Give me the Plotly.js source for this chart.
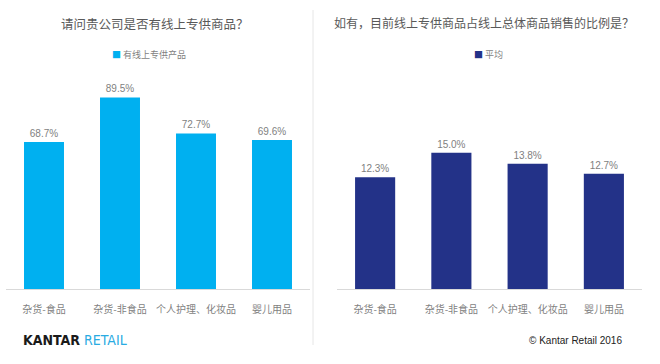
<!DOCTYPE html>
<html><head><meta charset="utf-8">
<script src="https://cdn.plot.ly/plotly-3.0.1.min.js"></script>
<style>html,body{margin:0;padding:0;background:#fff}#chart{width:660px;height:364px}</style>
</head><body><div id="chart"></div>
<script>
const categories = ["杂货-食品", "杂货-非食品", "个人护理、化妆品", "婴儿用品"];
const exclusiveShare = [68.7, 89.5, 72.7, 69.6];
const salesShare = [12.3, 15.0, 13.8, 12.7];
const leftTitle = "请问贵公司是否有线上专供商品？";
const rightTitle = "如有，目前线上专供商品占线上总体商品销售的比例是？";
const leftSeries = "有线上专供产品";
const rightSeries = "平均";
const leftColor = "#00B0F0";
const rightColor = "#233288";

const FONT = "'Liberation Sans', Arial, 'Noto Sans CJK SC', sans-serif";
const CJK = "'Noto Sans CJK SC', 'Liberation Sans', sans-serif";
const fmt = v => v.toFixed(1) + "%";

const traces = [
  {type: "bar", x: categories, y: exclusiveShare, name: leftSeries, xaxis: "x", yaxis: "y",
   marker: {color: leftColor}, text: exclusiveShare.map(fmt), textposition: "outside",
   textfont: {size: 10, color: "#7f7f7f", family: FONT}, cliponaxis: false, showlegend: false, hoverinfo: "none"},
  {type: "bar", x: categories, y: salesShare, name: rightSeries, xaxis: "x2", yaxis: "y2",
   marker: {color: rightColor}, text: salesShare.map(fmt), textposition: "outside",
   textfont: {size: 10, color: "#7f7f7f", family: FONT}, cliponaxis: false, showlegend: false, hoverinfo: "none"}
];

const yb = (364 - 289) / 364, yt = (364 - 75) / 364;
const xaxisCommon = {showline: true, linecolor: "#d9d9d9", linewidth: 1, showgrid: false, zeroline: false,
  ticks: "", ticklabelstandoff: 11, tickfont: {size: 10, color: "#7f7f7f", family: CJK}, fixedrange: true};
const yaxisCommon = {visible: false, showgrid: false, zeroline: false, fixedrange: true};

const legendFont = {size: 9, color: "#7f7f7f", family: CJK};

const layout = {
  width: 660, height: 364, margin: {l: 0, r: 0, t: 0, b: 0},
  paper_bgcolor: "#fff", plot_bgcolor: "#fff", font: {family: FONT},
  bargap: 0.474, showlegend: false,
  xaxis: Object.assign({domain: [6/660, 310/660], anchor: "y"}, xaxisCommon),
  xaxis2: Object.assign({domain: [337/660, 642/660], anchor: "y2"}, xaxisCommon),
  yaxis: Object.assign({domain: [yb, yt], range: [0, 100], anchor: "x"}, yaxisCommon),
  yaxis2: Object.assign({domain: [yb, yt], range: [0, 23.57], anchor: "x2"}, yaxisCommon),
  shapes: [
    {type: "line", xref: "paper", yref: "paper", x0: 313/660, x1: 313/660, y0: 1 - 345/364, y1: 1 - 10/364,
     line: {color: "#e6e6e6", width: 1}}
  ],
  annotations: [
    {text: leftTitle, xref: "paper", yref: "paper", x: 155/660, y: 1 - 23/364, xanchor: "center", yanchor: "middle",
     showarrow: false, font: {size: 12.5, color: "#595959", family: CJK}},
    {text: rightTitle, xref: "paper", yref: "paper", x: 484/660, y: 1 - 22/364, xanchor: "center", yanchor: "middle",
     showarrow: false, font: {size: 12, color: "#595959", family: CJK}},
    {text: "<span style='color:" + leftColor + "'>■</span> " + leftSeries, xref: "paper", yref: "paper",
     x: 149/660, y: 1 - 54/364, xanchor: "center", yanchor: "middle", showarrow: false, font: legendFont},
    {text: "<span style='color:" + rightColor + "'>■</span> " + rightSeries, xref: "paper", yref: "paper",
     x: 488/660, y: 1 - 54/364, xanchor: "center", yanchor: "middle", showarrow: false, font: legendFont},
    {text: "<b>KANTAR</b> <span style='color:#29abe2'>RETAIL</span>", xref: "paper", yref: "paper", x: 21/660, y: 1 - 340/364,
     xanchor: "left", yanchor: "middle", showarrow: false,
     font: {size: 14, color: "#1a1a1a", family: "'Liberation Sans Narrow', 'DejaVu Sans Condensed', sans-serif"}},
    {text: "© Kantar Retail 2016", xref: "paper", yref: "paper", x: 624/660, y: 1 - 340/364,
     xanchor: "right", yanchor: "middle", showarrow: false, font: {size: 10, color: "#222", family: "'Liberation Sans', sans-serif"}}
  ]
};

Plotly.newPlot("chart", traces, layout, {displayModeBar: false, staticPlot: true});
</script></body></html>
